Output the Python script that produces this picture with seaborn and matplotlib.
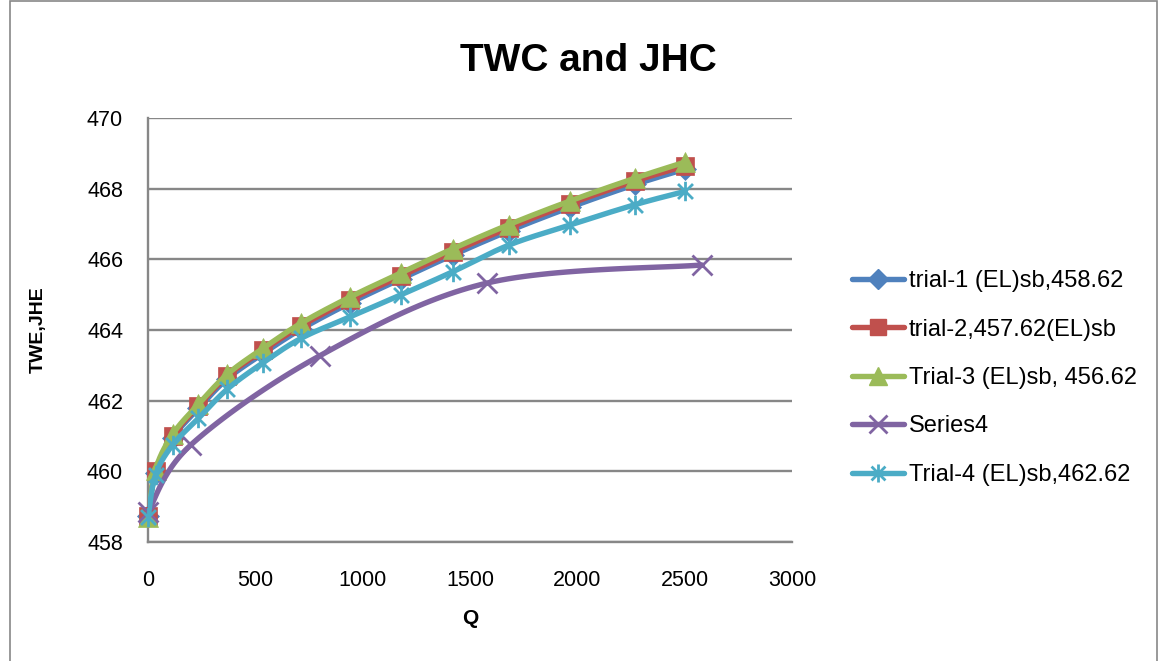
import numpy as np
import pandas as pd
import matplotlib
matplotlib.use("Agg")
import matplotlib.pyplot as plt
from matplotlib.path import Path
from matplotlib.lines import Line2D
from matplotlib.patches import Rectangle
import seaborn as sns

# ---- data ----
q_trials = [0, 35, 115, 235, 370, 535, 715, 940, 1180, 1420, 1680, 1965, 2270, 2500]
trial1 = [458.75, 459.95, 460.95, 461.78, 462.62, 463.33, 464.03, 464.76, 465.45, 466.12, 466.80, 467.47, 468.12, 468.55]
trial2 = [458.75, 460.00, 461.00, 461.85, 462.70, 463.42, 464.12, 464.85, 465.53, 466.21, 466.89, 467.57, 468.22, 468.64]
trial3 = [458.70, 460.05, 461.05, 461.90, 462.75, 463.48, 464.20, 464.93, 465.62, 466.30, 466.98, 467.65, 468.30, 468.75]
trial4 = [458.70, 459.90, 460.75, 461.50, 462.33, 463.07, 463.77, 464.37, 465.00, 465.65, 466.40, 466.97, 467.55, 467.92]
q_series4 = [0, 200, 800, 1580, 2580]
series4 = [458.85, 460.75, 463.27, 465.33, 465.84]

labels = ["trial-1 (EL)sb,458.62", "trial-2,457.62(EL)sb", "Trial-3 (EL)sb, 456.62",
          "Series4", "Trial-4 (EL)sb,462.62"]
x_ticks = [0, 500, 1000, 1500, 2000, 2500, 3000]
y_ticks = [458, 460, 462, 464, 466, 468, 470]

colors = ["#4F81BD", "#C0504D", "#9BBB59", "#8064A2", "#4BACC6"]

star = Path([(-1, -1), (1, 1), (-1, 1), (1, -1), (0, -1.3), (0, 1.3)],
            [Path.MOVETO, Path.LINETO, Path.MOVETO, Path.LINETO, Path.MOVETO, Path.LINETO])
markers = ["D", "s", "^", "x", star]
msizes = [11, 13, 14, 14, 14]


def smooth(xs, ys, n=30):
    """Excel-style smoothed line: Catmull-Rom Bezier through the data points."""
    P = np.column_stack([xs, ys]).astype(float)
    out = []
    for i in range(len(P) - 1):
        p0 = P[i - 1] if i > 0 else P[i]
        p1 = P[i]
        p2 = P[i + 1]
        p3 = P[i + 2] if i + 2 < len(P) else P[i + 1]
        c1 = p1 + (p2 - p0) / 6.0
        c2 = p2 - (p3 - p1) / 6.0
        t = np.linspace(0, 1, n)[:, None]
        seg = ((1 - t) ** 3) * p1 + 3 * ((1 - t) ** 2) * t * c1 + 3 * (1 - t) * t ** 2 * c2 + t ** 3 * p2
        out.append(seg if i == 0 else seg[1:])
    s = np.vstack(out)
    return s[:, 0], s[:, 1]


sns.set_theme(style="white")
plt.rcParams["font.family"] = ["Liberation Sans", "DejaVu Sans"]
plt.rcParams["text.color"] = "black"

fig = plt.figure(figsize=(11.59, 6.61), dpi=100)
ax = fig.add_axes([148 / 1159, 1 - 542 / 661, 644 / 1159, 424 / 661])

series = [(q_trials, trial1), (q_trials, trial2), (q_trials, trial3),
          (q_series4, series4), (q_trials, trial4)]

LW = 3.9
handles = []
for k, ((xs, ys), lab) in enumerate(zip(series, labels)):
    sx, sy = smooth(xs, ys)
    df = pd.DataFrame({"Q": sx, "V": sy})
    sns.lineplot(data=df, x="Q", y="V", ax=ax, color=colors[k], lw=LW,
                 sort=False, estimator=None, zorder=3 + k,
                 solid_capstyle="round")
    mk = markers[k]
    if k >= 3:
        ax.plot(xs, ys, linestyle="none", marker=mk, markersize=msizes[k],
                markeredgecolor=colors[k], markeredgewidth=2.0,
                markerfacecolor="none", zorder=3 + k, clip_on=False)
        h = Line2D([], [], color=colors[k], lw=LW, marker=mk, markersize=msizes[k] - 1,
                   markeredgecolor=colors[k], markeredgewidth=2.0, markerfacecolor="none",
                   solid_capstyle="round")
    else:
        ax.plot(xs, ys, linestyle="none", marker=mk, markersize=msizes[k],
                markeredgecolor=colors[k], markerfacecolor=colors[k],
                markeredgewidth=0.5, zorder=3 + k, clip_on=False)
        h = Line2D([], [], color=colors[k], lw=LW, marker=mk, markersize=msizes[k] - 1,
                   markeredgecolor=colors[k], markerfacecolor=colors[k],
                   solid_capstyle="round")
    handles.append(h)

ax.set_xlim(0, 3000)
ax.set_ylim(458, 470)
ax.set_xticks(x_ticks)
ax.set_yticks(y_ticks)
ax.set_xticklabels([str(v) for v in x_ticks])
ax.set_yticklabels([str(v) for v in y_ticks])
ax.set_xlabel("")
ax.set_ylabel("")
ax.grid(axis="y", color="#878787", lw=1.7)
ax.grid(axis="x", visible=False)
ax.set_axisbelow(True)
for s in ["top", "right"]:
    ax.spines[s].set_visible(False)
for s in ["left", "bottom"]:
    ax.spines[s].set_color("#878787")
    ax.spines[s].set_linewidth(1.7)
ax.tick_params(axis="both", which="major", labelsize=15.5, colors="black",
               length=0, pad=18)
ax.tick_params(axis="x", pad=20)

fig.text(0.508, 0.908, "TWC and JHC", ha="center", va="center",
         fontsize=28, fontweight="bold", color="black")
fig.text(470 / 1159, 1 - 619 / 661, "Q", ha="center", va="center",
         fontsize=15, fontweight="bold", color="black")
fig.text(38 / 1159, 1 - 330 / 661, "TWE,JHE", ha="center", va="center",
         rotation=90, fontsize=14, fontweight="bold", color="black")

fig.legend(handles=handles, labels=labels, loc="center left",
           bbox_to_anchor=(852 / 1159, 1 - 378 / 661), frameon=False,
           fontsize=17, handlelength=2.2, handletextpad=0.2,
           labelspacing=1.12, borderpad=0, borderaxespad=0,
           labelcolor="black")

fig.patches.append(Rectangle((10 / 1159, -0.01), 1 - 12 / 1159, 1.0085,
                             transform=fig.transFigure, fill=False,
                             edgecolor="#878787", lw=1.2))

fig.savefig("out.png", dpi=100)
